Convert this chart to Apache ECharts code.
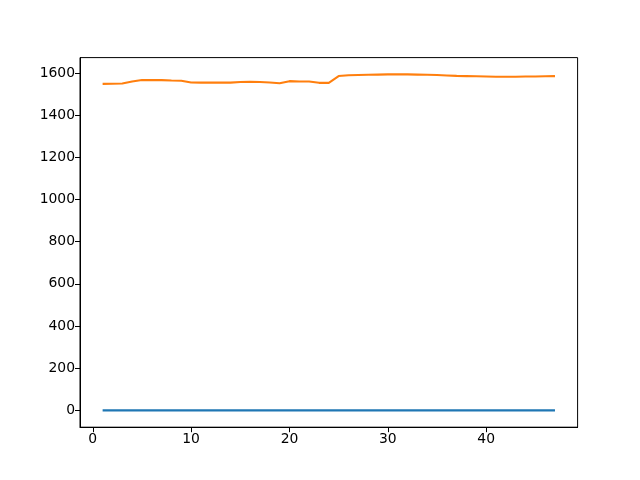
<!DOCTYPE html>
<html><head><meta charset="utf-8">
<script src="https://cdn.jsdelivr.net/npm/echarts@6/dist/echarts.min.js"></script>
<style>html,body{margin:0;padding:0;background:#fff}#c{width:640px;height:480px}</style>
</head><body><div id="c"></div>
<script>
var xValues = [1,2,3,4,5,6,7,8,9,10,11,12,13,14,15,16,17,18,19,20,21,22,23,24,25,26,27,28,29,30,31,32,33,34,35,36,37,38,39,40,41,42,43,44,45,46,47];
var blueValues = [0,0,0,0,0,0,0,0,0,0,0,0,0,0,0,0,0,0,0,0,0,0,0,0,0,0,0,0,0,0,0,0,0,0,0,0,0,0,0,0,0,0,0,0,0,0,0];
var orangeValues = [1548,1549,1550,1559,1566,1566,1566,1564,1563,1555,1554,1554,1554,1554,1557,1558,1557,1555,1551,1561,1559,1559,1553,1553,1585,1589,1590,1591,1592,1593,1593,1593,1592,1591,1590,1588,1586,1585,1584,1583,1582,1582,1582,1583,1583,1584,1585];
var xTicks = [0,10,20,30,40];
var yTicks = [0,200,400,600,800,1000,1200,1400,1600];

var chart = echarts.init(document.getElementById('c'), null, {renderer:'canvas'});
function pairs(v){ return xValues.map(function(x,i){return [x, v[i]];}); }
function fmt(v){ return String(Math.round(v)); }
var axisCommon = {
  axisLine:{show:true, onZero:false, lineStyle:{color:'#000', width:1}},
  axisTick:{show:true, inside:false, length:5, lineStyle:{color:'#000', width:1}},
  axisLabel:{color:'#000', fontSize:13.9, fontFamily:'DejaVu Sans', margin:5, formatter:fmt},
  splitLine:{show:false}
};
chart.setOption({
  animation:false,
  grid:{left:80, right:62.4, top:57.6, bottom:52.8, show:true, borderColor:'#000', borderWidth:1, containLabel:false},
  xAxis:Object.assign({}, axisCommon, {
    type:'value', min:-1.3, max:49.3,
    axisTick:Object.assign({}, axisCommon.axisTick, {customValues:xTicks}),
    axisLabel:Object.assign({}, axisCommon.axisLabel, {customValues:xTicks})
  }),
  yAxis:Object.assign({}, axisCommon, {
    type:'value', min:-79.65, max:1672.65,
    axisTick:Object.assign({}, axisCommon.axisTick, {customValues:yTicks}),
    axisLabel:Object.assign({}, axisCommon.axisLabel, {customValues:yTicks})
  }),
  series:[
    {type:'line', data:pairs(blueValues), showSymbol:false, lineStyle:{color:'#1f77b4', width:2.08}, itemStyle:{color:'#1f77b4'}},
    {type:'line', data:pairs(orangeValues), showSymbol:false, lineStyle:{color:'#ff7f0e', width:2.08}, itemStyle:{color:'#ff7f0e'}}
  ]
});
</script></body></html>
